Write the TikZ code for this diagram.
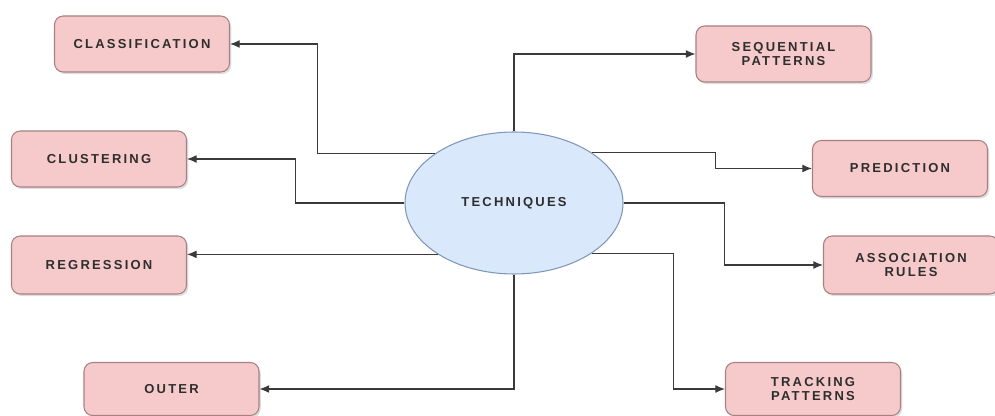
\documentclass[tikz,border=0pt]{standalone}
\usepackage{fontspec}
\setmainfont{Liberation Sans}
\newfontfamily\labelFont[LetterSpace=17]{Liberation Sans}
\usetikzlibrary{positioning, arrows.meta, calc, shapes.geometric, shadows}
\definecolor{bgPink}{HTML}{F6CACA}
\definecolor{borderPink}{HTML}{A88080}
\definecolor{bgBlue}{HTML}{DAE8FC}
\definecolor{borderBlue}{HTML}{7F96B8}
\definecolor{lineGray}{HTML}{3A3A3A}
\definecolor{textGray}{HTML}{2E2E2E}

\begin{document}
\begin{tikzpicture}[
    font=\labelFont\bfseries\fontsize{7.4}{8.4}\selectfont,
    >={Latex[length=5.5pt, width=4.5pt]},
    box/.style={
        draw, rounded corners=5pt, align=center, inner sep=2pt,
        line width=0.6pt, text=textGray
    },
    leafBox/.style={box, fill=bgPink, draw=borderPink,
        minimum width=3.5cm, minimum height=1.12cm,
        drop shadow={opacity=0.25, shadow xshift=1pt, shadow yshift=-1.2pt}},
    rootEllipse/.style={draw=borderBlue, fill=bgBlue, ellipse, line width=0.6pt,
        minimum width=4.36cm, minimum height=2.84cm, text=textGray},
    conn/.style={->, draw=lineGray, line width=0.6pt}
]
\useasboundingbox (0, 0) rectangle (19.9, -8.32);

\node[rootEllipse] (tech) at (10.28, -4.06) {TECHNIQUES};

% left side
\node[leafBox] (classif) at (2.84, -0.88) {CLASSIFICATION};
\node[leafBox] (cluster) at (1.98, -3.18) {CLUSTERING};
\node[leafBox, minimum height=1.16cm] (regress) at (1.98, -5.30) {REGRESSION};
\node[leafBox, minimum height=1.06cm] (outer) at (3.43, -7.78) {OUTER};

% right side
\node[leafBox] (seq) at (15.67, -1.08) {SEQUENTIAL\\PATTERNS};
\node[leafBox] (pred) at (18.00, -3.37) {PREDICTION};
\node[leafBox, minimum height=1.16cm] (assoc) at (18.22, -5.30) {ASSOCIATION\\RULES};
\node[leafBox, minimum height=1.06cm] (track) at (16.26, -7.78) {TRACKING\\PATTERNS};

\draw[conn] (tech.148) -- ++(-2.34, 0) |- (classif.east);
\draw[conn] (tech.west) -- ++(-2.18, 0) |- (cluster.east);
\draw[conn] (tech.214) -- (tech.214 -| regress.east);
\draw[conn] (tech.south) |- (outer.east);

\draw[conn] (tech.north) |- (seq.west);
\draw[conn] (tech.33) -- ++(2.48, 0) |- (pred.west);
\draw[conn] (tech.east) -- ++(2.02, 0) |- (assoc.west);
\draw[conn] (tech.-33) -- ++(1.64, 0) |- (track.west);

\end{tikzpicture}
\end{document}
